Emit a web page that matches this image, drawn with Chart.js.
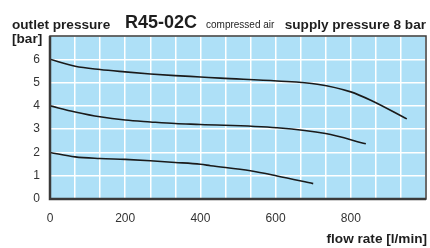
<!DOCTYPE html>
<html>
<head>
<meta charset="utf-8">
<script src="https://cdn.jsdelivr.net/npm/chart.js@4/dist/chart.umd.min.js"></script>
<style>
	html, body { margin: 0; padding: 0; background: #fff; }
	#wrap { position: relative; width: 430px; height: 248px; }
</style>
</head>
<body>
<div id="wrap"><canvas id="chart" width="430" height="248"></canvas></div>
<script>
const FONT = '"Liberation Sans", Arial, Helvetica, sans-serif'

// Data (flow rate l/min -> outlet pressure bar)
const flow6 = [0, 67, 133, 200, 267, 333, 400, 453, 604, 711, 800, 853, 949]
const bar6 = [6.0, 5.70, 5.56, 5.46, 5.37, 5.30, 5.24, 5.19, 5.07, 4.93, 4.60, 4.24, 3.44]

const flow4 = [0, 67, 133, 200, 267, 333, 400, 604, 733, 840]
const bar4 = [4.0, 3.74, 3.53, 3.39, 3.31, 3.24, 3.20, 3.06, 2.81, 2.37]

const flow2 = [0, 67, 133, 200, 267, 333, 400, 427, 533, 604, 700]
const bar2 = [2.0, 1.81, 1.74, 1.70, 1.64, 1.57, 1.49, 1.43, 1.21, 0.99, 0.66]

const xLabelStep = 200
const xGridStep = 200 / 3
const xMax = 1000
const yMax = 7

function points(xs, ys) {
	return xs.map((x, i) => ({ x: x, y: ys[i] }))
}

function curve(xs, ys) {
	return {
		data: points(xs, ys),
		borderColor: '#1a1a1a',
		borderWidth: 1.6,
		pointRadius: 0,
		fill: false,
		cubicInterpolationMode: 'monotone'
	}
}

// Background, frame and the header texts
const decor = {
	id: 'decor',
	beforeDraw(chart) {
		const { ctx, chartArea: a } = chart
		ctx.save()
		ctx.fillStyle = '#aee0f7'
		ctx.fillRect(a.left, a.top, a.right - a.left, a.bottom - a.top)
		ctx.restore()
	},
	afterDraw(chart) {
		const { ctx, chartArea: a } = chart
		ctx.save()
		ctx.strokeStyle = '#3a3a3a'
		ctx.lineWidth = 1.5
		ctx.strokeRect(a.left, a.top, a.right - a.left, a.bottom - a.top)
		ctx.lineWidth = 2.5
		ctx.beginPath()
		ctx.moveTo(a.left, a.top)
		ctx.lineTo(a.left, a.bottom)
		ctx.lineTo(a.right, a.bottom)
		ctx.stroke()

		ctx.fillStyle = '#1e1e1e'
		ctx.textBaseline = 'alphabetic'
		ctx.textAlign = 'left'
		ctx.font = 'bold 13.6px ' + FONT
		ctx.fillText('outlet pressure', 12, 29)
		ctx.fillText('[bar]', 12, 43)
		ctx.font = 'bold 18px ' + FONT
		ctx.fillText('R45-02C', 125, 28)
		ctx.font = '10px ' + FONT
		ctx.fillText('compressed air', 206, 28)
		ctx.font = 'bold 13.6px ' + FONT
		ctx.textAlign = 'right'
		ctx.fillText('supply pressure 8 bar', 426, 29)
		ctx.fillText('flow rate [l/min]', 427, 243)
		ctx.restore()
	}
}

new Chart(document.getElementById('chart'), {
	type: 'line',
	data: {
		datasets: [curve(flow6, bar6), curve(flow4, bar4), curve(flow2, bar2)]
	},
	options: {
		responsive: false,
		animation: false,
		events: [],
		layout: { padding: { top: 36, right: 4, left: 0, bottom: 0 } },
		plugins: { legend: { display: false }, tooltip: { enabled: false } },
		scales: {
			x: {
				type: 'linear',
				min: 0,
				max: xMax,
				afterBuildTicks(scale) {
					const ticks = []
					for (let k = 0; k * xGridStep <= xMax + 0.01; k++) {
						ticks.push({ value: k * xGridStep })
					}
					scale.ticks = ticks
				},
				afterFit(scale) {
					scale.height = 49
					scale.paddingLeft = 0
					scale.paddingRight = 0
				},
				grid: { color: '#ffffff', lineWidth: 1.5, drawTicks: false },
				border: { display: false },
				ticks: {
					autoSkip: false,
					maxRotation: 0,
					padding: 12,
					color: '#333',
					font: { family: FONT, size: 12 },
					callback(v) {
						const r = Math.round(v)
						return (r % xLabelStep === 0 && r < xMax) ? String(r) : ''
					}
				}
			},
			y: {
				min: 0,
				max: yMax,
				afterFit(scale) { scale.width = 50 },
				grid: { color: '#ffffff', lineWidth: 1.5, drawTicks: false },
				border: { display: false },
				ticks: {
					stepSize: 1,
					padding: 10,
					color: '#333',
					font: { family: FONT, size: 12 },
					callback(v) { return v < yMax ? String(v) : '' }
				}
			}
		}
	},
	plugins: [decor]
})
</script>
</body>
</html>
